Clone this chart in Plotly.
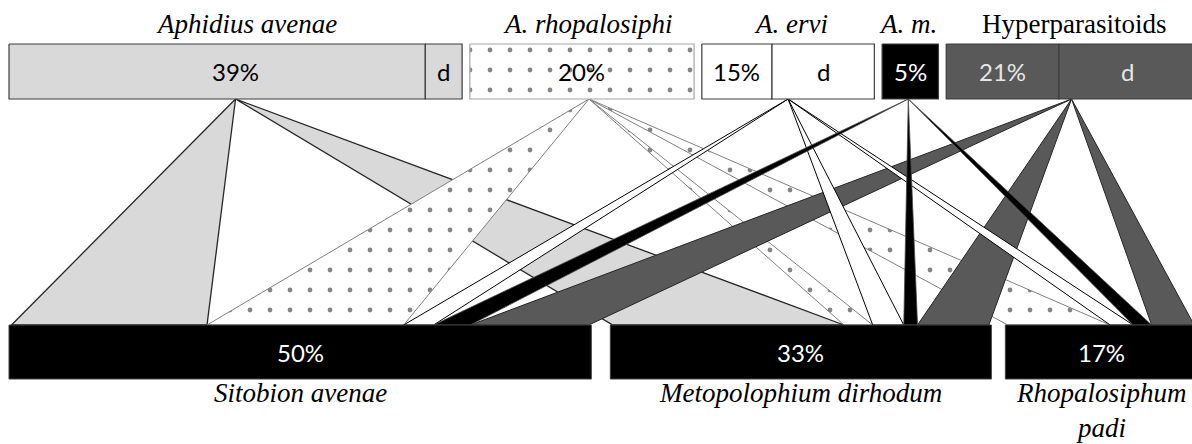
import plotly.graph_objects as go

# ---------------- data ----------------
parasitoids = ["Aphidius avenae", "A. rhopalosiphi", "A. ervi", "A. m.", "Hyperparasitoids"]
parasitoid_italic = [True, True, True, True, False]
parasitoid_pct = ["39%", "20%", "15%", "5%", "21%"]
parasitoid_main = [36.2, 19.5, 6.1, 4.9, 9.8]     # bar length, main part
parasitoid_d = [3.2, 0.0, 8.9, 0.0, 12.0]          # bar length, "d" part

hosts = ["Sitobion avenae", "Metopolophium dirhodum", "Rhopalosiphum padi"]
host_pct = ["50%", "33%", "17%"]

# link strengths (one value per parasitoid, same order as `parasitoids`)
links_sitobion = [17.0, 17.1, 2.6, 3.2, 10.3]
links_metopolophium = [20.1, 2.5, 2.7, 1.2, 6.2]
links_rhopalosiphum = [0.0, 8.9, 2.0, 1.6, 3.7]
links_by_host = [links_sitobion, links_metopolophium, links_rhopalosiphum]

# ---------------- layout / style ----------------
W, H = 1192, 444
SCALE = 11.5
TOP_Y0, TOP_Y1 = 44, 99
BOT_Y0, BOT_Y1 = 325, 379
TOP_X0, TOP_GAP = 9, 7.75
BOT_X0, BOT_GAPS, PAD = 9, [19, 14], 2.5
APEX_DX = [0, 7, 0, -2, 0]
TITLE_DX = [11, 6, 3, -2, 2]
DRAW_ORDER = [0, 1, 4, 2, 3]

dots = dict(shape=".", size=20, solidity=0.045, fgcolor="#858585", bgcolor="white", fillmode="replace")
node_style = [
    dict(fill="#d9d9d9", line="#3c3c3c", pattern=None, txt="black"),
    dict(fill="white", line="#a6a6a6", pattern=dots, txt="black"),
    dict(fill="white", line="#3c3c3c", pattern=None, txt="black"),
    dict(fill="black", line="#3c3c3c", pattern=None, txt="white"),
    dict(fill="#595959", line="#3c3c3c", pattern=None, txt="#e6e6e6"),
]
link_style = [
    dict(fill="#d9d9d9", line="#262626", w=1.3, pattern=None),
    dict(fill="white", line="#808080", w=1.0, pattern=dots),
    dict(fill="white", line="#000000", w=1.0, pattern=None),
    dict(fill="black", line="#4d4d4d", w=0.8, pattern=None),
    dict(fill="#595959", line="#262626", w=1.0, pattern=None),
]
SANS = "Lato"
SERIF = "Liberation Serif"

fig = go.Figure()


def poly(xs, ys, fill, line, width, pattern=None):
    fig.add_trace(go.Scatter(
        x=list(xs) + [xs[0]], y=list(ys) + [ys[0]], mode="lines",
        fill="toself", fillcolor=fill, fillpattern=pattern,
        line=dict(color=line, width=width), hoverinfo="skip", showlegend=False))


def label(x, y, text, size, color="black", family=SANS):
    fig.add_annotation(x=x, y=y, xref="x", yref="y", text=text, showarrow=False,
                       font=dict(family=family, size=size, color=color),
                       xanchor="center", yanchor="middle")


# top (parasitoid) bars
apex = []
x = TOP_X0
top_geo = []
for i, name in enumerate(parasitoids):
    mw = parasitoid_main[i] * SCALE
    dw = parasitoid_d[i] * SCALE
    top_geo.append((x, x + mw, x + mw + dw))
    apex.append(x + (mw + dw) / 2 + APEX_DX[i])
    x += mw + dw + TOP_GAP

# bottom (host) bars
bot_geo = []
x = BOT_X0
for h in range(len(hosts)):
    total = sum(links_by_host[h]) * SCALE
    bot_geo.append((x, x + total + 2 * PAD))
    x += total + 2 * PAD + (BOT_GAPS[h] if h < len(BOT_GAPS) else 0)

# link base positions
bases = {}
for h in range(len(hosts)):
    bx = bot_geo[h][0] + PAD
    for p in range(len(parasitoids)):
        w = links_by_host[h][p] * SCALE
        if w > 0:
            bases[(p, h)] = (bx, bx + w)
        bx += w

# links
for p in DRAW_ORDER:
    st = link_style[p]
    for h in range(len(hosts)):
        if (p, h) in bases:
            b0, b1 = bases[(p, h)]
            poly([apex[p], b1, b0], [TOP_Y1, BOT_Y0, BOT_Y0], st["fill"], st["line"], st["w"], st["pattern"])

# top bars
for i, name in enumerate(parasitoids):
    x0, x1, x2 = top_geo[i]
    st = node_style[i]
    poly([x0, x1, x1, x0], [TOP_Y0, TOP_Y0, TOP_Y1, TOP_Y1], st["fill"], st["line"], 1.2, st["pattern"])
    if x2 > x1:
        poly([x1, x2, x2, x1], [TOP_Y0, TOP_Y0, TOP_Y1, TOP_Y1], st["fill"], st["line"], 1.2, st["pattern"])
        label((x1 + x2) / 2, (TOP_Y0 + TOP_Y1) / 2, "d", 24, st["txt"])
    small_d = (x2 - x1) < 0.2 * (x1 - x0)
    cx = (x0 + x2) / 2 if small_d else (x0 + x1) / 2
    label(cx, (TOP_Y0 + TOP_Y1) / 2, parasitoid_pct[i], 24, st["txt"])
    t = "<i>%s</i>" % name if parasitoid_italic[i] else name
    label((x0 + x2) / 2 + TITLE_DX[i], 24, t, 27, "black", SERIF)

# bottom bars
for h, name in enumerate(hosts):
    x0, x1 = bot_geo[h]
    poly([x0, x1, x1, x0], [BOT_Y0, BOT_Y0, BOT_Y1, BOT_Y1], "black", "#404040", 1)
    label((x0 + x1) / 2, (BOT_Y0 + BOT_Y1) / 2, host_pct[h], 24, "white")
    lines = [name] if (x1 - x0) > 300 else name.split(" ")
    for k, ln in enumerate(lines):
        label((x0 + x1) / 2, 393 + 35 * k, "<i>%s</i>" % ln, 27, "black", SERIF)

fig.update_layout(
    width=W, height=H, margin=dict(l=0, r=0, t=0, b=0),
    paper_bgcolor="white", plot_bgcolor="white",
    xaxis=dict(range=[0, W], visible=False, fixedrange=True),
    yaxis=dict(range=[H, 0], visible=False, fixedrange=True),
    showlegend=False,
)

fig.write_html("out.html", config={"displayModeBar": False},
               post_script="document.body.style.margin='0';")
